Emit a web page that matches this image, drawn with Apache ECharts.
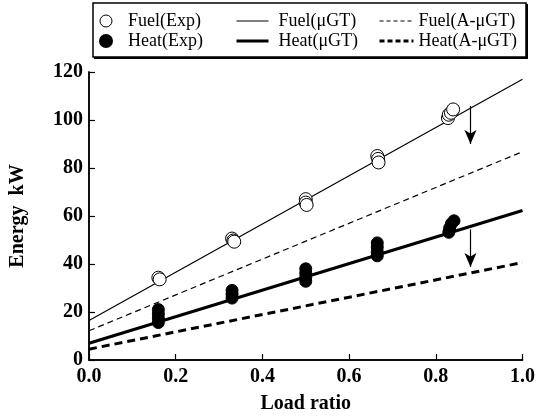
<!DOCTYPE html>
<html><head><meta charset="utf-8">
<script src="https://cdn.jsdelivr.net/npm/echarts@6/dist/echarts.min.js"></script>
<style>html,body{margin:0;padding:0;background:#fff}#c{width:538px;height:419px}</style>
</head><body><div id="c"></div>
<script>
const fuelExp = [[0.16,34.3],[0.163,33.6],[0.33,50.6],[0.333,49.8],[0.335,49.3],[0.5,67.0],[0.5,65.6],[0.502,64.6],[0.665,85.0],[0.667,83.8],[0.668,82.3],[0.828,100.8],[0.83,102.2],[0.835,103.0],[0.84,104.4]];
const heatExp = [[0.16,21.0],[0.16,19.2],[0.16,17.4],[0.16,15.6],[0.33,29.0],[0.33,27.4],[0.33,25.8],[0.5,38.0],[0.5,36.2],[0.5,34.4],[0.5,32.8],[0.665,48.8],[0.665,47.0],[0.665,45.0],[0.665,43.4],[0.83,53.2],[0.832,55.0],[0.836,56.8],[0.842,58.0]];
const fuelGT = [[0,16.5],[1,117]];
const heatGT = [[0,7],[1,62.3]];
const fuelAGT = [[0,12.2],[1,86.8]];
const heatAGT = [[0,4.5],[1,40.6]];
const arrowFuel = [[0.88,105.8],[0.88,90.0]];
const arrowHeat = [[0.88,54.4],[0.88,38.8]];
const xTicks = [0,0.2,0.4,0.6,0.8,1.0];
const yTicks = [0,20,40,60,80,100,120];

const FONT = '"Liberation Serif","Times New Roman",serif';
const chart = echarts.init(document.getElementById('c'));
function legendTxt(pad){return {fontFamily:FONT,fontSize:18,color:'#000',lineHeight:20,padding:[0,0,0,pad]};}
chart.setOption({
  animation:false,
  grid:{left:86,right:13,top:72,bottom:54},
  legend:[
    {orient:'vertical',left:99,top:11,padding:0,itemGap:0,itemWidth:12,itemHeight:12,textStyle:legendTxt(11),
      data:[{name:'Fuel(Exp)',icon:'circle',itemStyle:{borderWidth:1}},{name:'Heat(Exp)',icon:'circle'}]},
    {orient:'vertical',left:235,top:11,padding:0,itemGap:0,itemWidth:32,itemHeight:14,textStyle:legendTxt(5),itemStyle:{opacity:0},
      data:[{name:'Fuel(μGT)',lineStyle:{width:1.2}},{name:'Heat(μGT)',lineStyle:{width:3}}]},
    {orient:'vertical',left:378,top:11,padding:0,itemGap:0,itemWidth:34,itemHeight:14,textStyle:legendTxt(0),itemStyle:{opacity:0},
      data:[{name:'Fuel(A-μGT)',lineStyle:{width:1.2,type:[4,3]}},{name:'Heat(A-μGT)',lineStyle:{width:3,type:[5,3]}}]}
  ],
  graphic:[
    {type:'rect',shape:{x:93,y:3,width:433,height:54},style:{fill:'none',stroke:'#000',lineWidth:1.5}},
    {type:'polyline',shape:{points:[[527,4],[527,58],[94,58]]},style:{fill:'none',stroke:'#000',lineWidth:2}}
  ],
  xAxis:[{type:'value',min:0,max:1,interval:0.2,position:'bottom',
    name:'Load ratio',nameLocation:'middle',nameGap:34,
    nameTextStyle:{fontFamily:FONT,fontSize:20,fontWeight:'bold',color:'#000'},
    axisLine:{lineStyle:{color:'#000',width:1.5}},
    axisTick:{inside:true,length:6,lineStyle:{color:'#000',width:1.2}},
    axisLabel:{fontFamily:FONT,fontSize:20,fontWeight:'bold',color:'#000',margin:7,formatter:v=>v.toFixed(1)},
    splitLine:{show:false}},
   {type:'value',min:0,max:1,position:'top',axisLine:{show:true,lineStyle:{color:'#000',width:1.5}},axisTick:{show:false},axisLabel:{show:false},splitLine:{show:false}}],
  yAxis:[{type:'value',min:0,max:120,interval:20,
    name:'Energy  kW',nameLocation:'middle',nameGap:61,
    nameTextStyle:{fontFamily:FONT,fontSize:20,fontWeight:'bold',color:'#000'},
    axisLine:{show:true,lineStyle:{color:'#000',width:1.5}},
    axisTick:{show:true,inside:true,length:6,lineStyle:{color:'#000',width:1.2}},
    axisLabel:{fontFamily:FONT,fontSize:20,fontWeight:'bold',color:'#000',margin:6},
    splitLine:{show:false}},
   {type:'value',min:0,max:120,position:'right',axisLine:{show:true,lineStyle:{color:'#000',width:1.5}},axisTick:{show:false},axisLabel:{show:false},splitLine:{show:false}}],
  series:[
    {name:'Fuel(μGT)',type:'line',data:fuelGT,symbol:'none',lineStyle:{color:'#000',width:1.2},itemStyle:{color:'#000'},z:2,
      markLine:{silent:true,symbol:['none','arrow'],symbolSize:[9,14],label:{show:false},lineStyle:{color:'#000',width:1.2,type:'solid'},
        data:[[{coord:arrowFuel[0]},{coord:arrowFuel[1]}],[{coord:arrowHeat[0]},{coord:arrowHeat[1]}]]}},
    {name:'Heat(μGT)',type:'line',data:heatGT,symbol:'none',lineStyle:{color:'#000',width:3},itemStyle:{color:'#000'},z:2},
    {name:'Fuel(A-μGT)',type:'line',data:fuelAGT,symbol:'none',lineStyle:{color:'#000',width:1.2,type:[6,4]},itemStyle:{color:'#000'},z:2},
    {name:'Heat(A-μGT)',type:'line',data:heatAGT,symbol:'none',lineStyle:{color:'#000',width:3,type:[8,5]},itemStyle:{color:'#000'},z:2},
    {name:'Fuel(Exp)',type:'scatter',data:fuelExp,symbol:'circle',symbolSize:13,itemStyle:{color:'#fff',borderColor:'#000',borderWidth:1,opacity:1},z:3},
    {name:'Heat(Exp)',type:'scatter',data:heatExp,symbol:'circle',symbolSize:12,itemStyle:{color:'#000',borderColor:'#000',borderWidth:1,opacity:1},z:3}
  ]
});
</script></body></html>
